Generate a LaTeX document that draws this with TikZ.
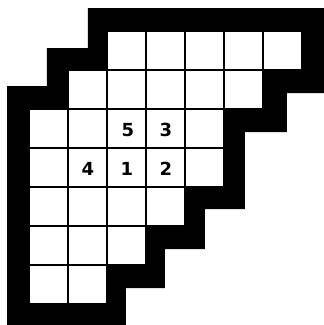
\documentclass[tikz,border=0pt]{standalone}
\usepackage{fontspec}
\newfontfamily\numfont{DejaVu Sans}
\begin{document}
\begin{tikzpicture}[x=1pt,y=-1pt,
  cellbox/.style={draw=black,line width=1.8pt,fill=white},
  numlabel/.style={font=\numfont\bfseries\fontsize{18}{18}\selectfont,inner sep=0pt}]
\useasboundingbox (0,0) rectangle (324,325);
\fill[white] (0,0) rectangle (324,325);
% thick black frame
\fill[black] (88,8) -- (324,8) -- (324,93) -- (287,93) -- (287,132) -- (245,132)
  -- (245,209) -- (205,209) -- (205,249) -- (165,249) -- (165,288) -- (126,288)
  -- (126,325) -- (7,325) -- (7,86) -- (47,86) -- (47,48) -- (88,48) -- cycle;
% cells: row, first column, last column
\foreach \r/\a/\b in {0/2/6, 1/1/5, 2/0/4, 3/0/4, 4/0/3, 5/0/2, 6/0/1}{
  \foreach \c in {\a,...,\b}{
    \draw[cellbox] ({29+39*\c},{31+39*\r}) rectangle ++(39,39);
  }
}
\node[numlabel] (n5) at (128,130) {5};
\node[numlabel] (n3) at (166,130) {3};
\node[numlabel] (n4) at (88,169) {4};
\node[numlabel] (n1) at (127,169) {1};
\node[numlabel] (n2) at (166,169) {2};
\end{tikzpicture}
\end{document}
